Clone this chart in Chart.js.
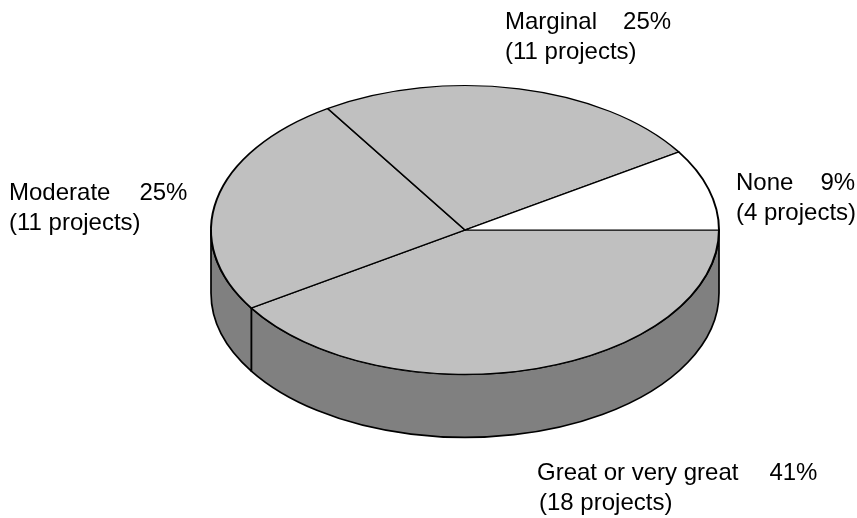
<!DOCTYPE html>
<html>
<head>
<meta charset="utf-8">
<script src="https://cdn.jsdelivr.net/npm/chart.js@4/dist/chart.umd.min.js"></script>
<style>
  html, body { margin: 0; padding: 0; background: #fff; }
  #wrap { position: relative; width: 857px; height: 518px; }
  .lbl {
    position: absolute;
    font-family: "Liberation Sans", Arial, sans-serif;
    font-size: 24px;
    line-height: 30px;
    color: #000;
    white-space: pre;
  }
</style>
</head>
<body>
<div id="wrap">
  <canvas id="pie" width="857" height="518"></canvas>
</div>
<script>
// data (clockwise from 3 o'clock)
const categories = ["Great or very great", "Moderate", "Marginal", "None"];
const projects = [18, 11, 11, 4];
const percents = ["41%", "25%", "25%", "9%"];

const sliceColors = ["#c0c0c0", "#c0c0c0", "#c0c0c0", "#ffffff"];
const sideColors = ["#808080", "#808080", "#808080", "#d0d0d0"];

// look of the tilted pie
const PIE_CY = 230;     // screen y of the top face centre
const SQUASH = 145 / 255;
const DEPTH = 63;

// label placement (left, top, extra indent of line 2, gap before %)
const labelPos = [
  { left: 537, top: 457, indent: 2, gap: 31 },
  { left: 9, top: 177, indent: 0, gap: 29 },
  { left: 505, top: 6, indent: 0, gap: 26 },
  { left: 736, top: 167, indent: 0, gap: 27 }
];

const tilt = {
  id: "tilt",
  beforeDatasetsDraw(chart) {
    const ctx = chart.ctx;
    const arcs = chart.getDatasetMeta(0).data;
    const x = arcs[0].x, y = arcs[0].y, R = arcs[0].outerRadius;
    const ry = R * SQUASH;

    // side walls, only the front half is seen
    ctx.save();
    ctx.strokeStyle = "#000";
    ctx.lineWidth = 1.7;
    ctx.lineJoin = "round";
    arcs.forEach((arc, i) => {
      const a = Math.max(arc.startAngle, 0);
      const b = Math.min(arc.endAngle, Math.PI);
      if (b <= a) return;
      ctx.beginPath();
      ctx.ellipse(x, PIE_CY, R, ry, 0, a, b);
      ctx.ellipse(x, PIE_CY + DEPTH, R, ry, 0, b, a, true);
      ctx.closePath();
      ctx.fillStyle = sideColors[i];
      ctx.fill();
      ctx.stroke();
    });
    ctx.restore();

    // squash the top face
    ctx.save();
    ctx.translate(x, PIE_CY);
    ctx.scale(1, SQUASH);
    ctx.translate(-x, -y);
  },
  afterDatasetsDraw(chart) {
    chart.ctx.restore();
  }
};

new Chart(document.getElementById("pie"), {
  type: "pie",
  data: {
    labels: categories,
    datasets: [{
      data: projects,
      backgroundColor: sliceColors,
      borderColor: "#000",
      borderWidth: 2,
      borderJoinStyle: "round"
    }]
  },
  options: {
    responsive: false,
    animation: false,
    events: [],
    rotation: 90,
    layout: { padding: { left: 210, right: 137, top: 4, bottom: 4 } },
    plugins: {
      legend: { display: false },
      tooltip: { enabled: false }
    }
  },
  plugins: [tilt]
});

// text labels
const wrap = document.getElementById("wrap");
categories.forEach((name, i) => {
  const p = labelPos[i];
  const div = document.createElement("div");
  div.className = "lbl";
  div.style.left = p.left + "px";
  div.style.top = p.top + "px";
  const l1 = document.createElement("div");
  l1.textContent = name;
  const pct = document.createElement("span");
  pct.style.marginLeft = p.gap + "px";
  pct.textContent = percents[i];
  l1.appendChild(pct);
  const l2 = document.createElement("div");
  l2.style.paddingLeft = p.indent + "px";
  l2.textContent = "(" + projects[i] + " projects)";
  div.appendChild(l1);
  div.appendChild(l2);
  wrap.appendChild(div);
});
</script>
</body>
</html>
